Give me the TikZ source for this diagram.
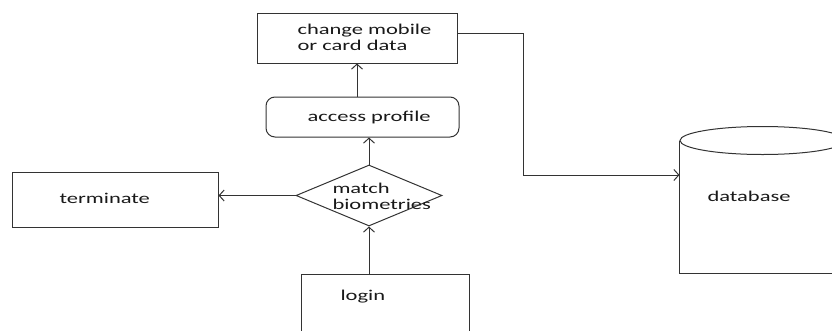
\documentclass[tikz,border=0pt]{standalone}
\usepackage{fontspec}
\setmainfont{Carlito}[FakeStretch=1.5]
\usepackage{tikz}
\usetikzlibrary{shapes.geometric}
\usetikzlibrary{arrows.meta}
\usetikzlibrary{calc}

\tikzset{
    box/.style={draw, inner sep=0pt},
    lbl/.style={anchor=base west, inner sep=0pt, align=left, text=black!90,
        font=\fontsize{15}{16}\selectfont},
    flow/.style={-{Straight Barb[length=5pt,width=11pt]}}
}

\begin{document}
\begin{tikzpicture}[x=1pt, y=-1pt, line width=1pt, draw=black!80]
                \useasboundingbox (0, 0) rectangle (832, 330);
                \clip (0, 0) rectangle (832, 330);

                \node[box, minimum width=200pt, minimum height=50pt] (chg) at (357, 38) {};
                \node[box, rounded corners=9pt, minimum width=193pt, minimum height=40pt] (acc) at (362.5, 117) {};
                \node[box, diamond, minimum width=146pt, minimum height=61pt] (mb) at (369, 195.5) {};
                \node[box, minimum width=206pt, minimum height=55pt] (term) at (115, 199.5) {};
                \node[box, minimum width=168pt, minimum height=72pt] (login) at (385, 310) {};
                \node[minimum width=165pt, minimum height=146pt, inner sep=0pt] (db) at (762.5, 200) {};
                \draw ([yshift=-14pt]db.north west) -- (db.south west) -- (db.south east) -- ([yshift=-14pt]db.north east);
                \draw ([yshift=-14pt]db.north) ellipse (82.5pt and 14pt);

                % base of a two-line label is its last line
                \node[lbl] (chgtxt) at (297, 50) {change mobile\\or card data};
                \node[lbl] (acctxt) at (307, 121) {access profile};
                \node[lbl] (mbtxt) at (332, 209) {match\\biometries};
                \node[lbl] (termtxt) at (59, 203) {terminate};
                \node[lbl] (logintxt) at (340, 300) {login};
                \node[lbl] (dbtxt) at (707, 201) {database};

                \coordinate (turn) at (523, 175);
                \draw[flow] (mb.south |- login.north) -- (mb.south);
                \draw[flow] (mb.north) -- (mb.north |- acc.south);
                \draw[flow] (acc.north -| chg.south) -- (chg.south);
                \draw[flow] (mb.west) -- (mb.west -| term.east);
                \draw[flow] ([yshift=5pt]chg.east) -| (turn) -- (turn -| db.west);
            \end{tikzpicture}
\end{document}
